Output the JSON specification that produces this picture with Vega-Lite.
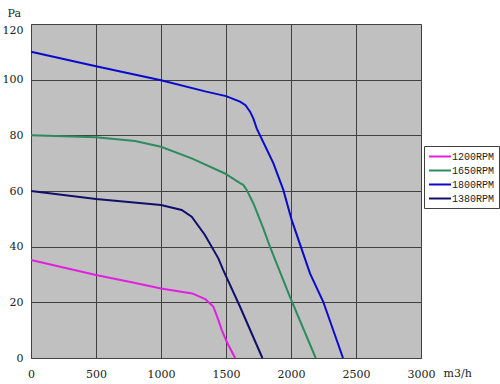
{
  "$schema": "https://vega.github.io/schema/vega-lite/v6.json",
  "width": 390,
  "height": 334,
  "autosize": "none",
  "padding": {"left": 31, "top": 24, "right": 79, "bottom": 26},
  "background": "white",
  "data": {"values": [
    {"rpm": "1800RPM", "q": 0, "p": 110},
    {"rpm": "1800RPM", "q": 500, "p": 104.8},
    {"rpm": "1800RPM", "q": 1000, "p": 99.8},
    {"rpm": "1800RPM", "q": 1340, "p": 95.8},
    {"rpm": "1800RPM", "q": 1500, "p": 94.1},
    {"rpm": "1800RPM", "q": 1608, "p": 92.1},
    {"rpm": "1800RPM", "q": 1650, "p": 90.8},
    {"rpm": "1800RPM", "q": 1685, "p": 88.5},
    {"rpm": "1800RPM", "q": 1710, "p": 86.1},
    {"rpm": "1800RPM", "q": 1736, "p": 82.5},
    {"rpm": "1800RPM", "q": 1864, "p": 70.0},
    {"rpm": "1800RPM", "q": 1941, "p": 60.4},
    {"rpm": "1800RPM", "q": 2005, "p": 49.6},
    {"rpm": "1800RPM", "q": 2146, "p": 30.4},
    {"rpm": "1800RPM", "q": 2248, "p": 20.2},
    {"rpm": "1800RPM", "q": 2400, "p": 0},
    {"rpm": "1650RPM", "q": 0, "p": 80},
    {"rpm": "1650RPM", "q": 500, "p": 79.3},
    {"rpm": "1650RPM", "q": 800, "p": 78.0},
    {"rpm": "1650RPM", "q": 1000, "p": 75.9},
    {"rpm": "1650RPM", "q": 1236, "p": 71.7},
    {"rpm": "1650RPM", "q": 1492, "p": 66.3},
    {"rpm": "1650RPM", "q": 1608, "p": 62.8},
    {"rpm": "1650RPM", "q": 1633, "p": 62.2},
    {"rpm": "1650RPM", "q": 1659, "p": 60.4},
    {"rpm": "1650RPM", "q": 1710, "p": 55.6},
    {"rpm": "1650RPM", "q": 1787, "p": 46.6},
    {"rpm": "1650RPM", "q": 1838, "p": 40},
    {"rpm": "1650RPM", "q": 1992, "p": 22},
    {"rpm": "1650RPM", "q": 2190, "p": 0},
    {"rpm": "1380RPM", "q": 0, "p": 60},
    {"rpm": "1380RPM", "q": 500, "p": 57.1},
    {"rpm": "1380RPM", "q": 1000, "p": 55.0},
    {"rpm": "1380RPM", "q": 1159, "p": 53.2},
    {"rpm": "1380RPM", "q": 1236, "p": 50.8},
    {"rpm": "1380RPM", "q": 1338, "p": 44.2},
    {"rpm": "1380RPM", "q": 1441, "p": 35.8},
    {"rpm": "1380RPM", "q": 1479, "p": 31.6},
    {"rpm": "1380RPM", "q": 1608, "p": 18.4},
    {"rpm": "1380RPM", "q": 1780, "p": 0},
    {"rpm": "1200RPM", "q": 0, "p": 35.2},
    {"rpm": "1200RPM", "q": 500, "p": 29.8},
    {"rpm": "1200RPM", "q": 774, "p": 27.2},
    {"rpm": "1200RPM", "q": 1000, "p": 25.0},
    {"rpm": "1200RPM", "q": 1240, "p": 23.2},
    {"rpm": "1200RPM", "q": 1340, "p": 21.2},
    {"rpm": "1200RPM", "q": 1402, "p": 18.5},
    {"rpm": "1200RPM", "q": 1441, "p": 13.7},
    {"rpm": "1200RPM", "q": 1467, "p": 10.1},
    {"rpm": "1200RPM", "q": 1505, "p": 5.9},
    {"rpm": "1200RPM", "q": 1570, "p": 0}
  ]},
  "mark": {"type": "line", "strokeWidth": 2},
  "encoding": {
    "x": {
      "field": "q", "type": "quantitative",
      "scale": {"domain": [0, 3000], "nice": false},
      "axis": {
        "values": [0, 500, 1000, 1500, 2000, 2500, 3000], "format": "d",
        "title": "m3/h", "titleAngle": 0, "titleAlign": "left", "titleBaseline": "middle",
        "titleX": 412, "titleY": 15, "titleFontWeight": "normal",
        "labelPadding": 10, "labelFlush": false
      }
    },
    "y": {
      "field": "p", "type": "quantitative",
      "scale": {"domain": [0, 120], "nice": false},
      "axis": {
        "values": [0, 20, 40, 60, 80, 100, 120], "format": "d",
        "title": "Pa", "titleAngle": 0, "titleAlign": "left", "titleBaseline": "middle",
        "titleX": -24, "titleY": -11, "titleFontWeight": "normal",
        "labelPadding": 8,
        "labelBaseline": {"condition": {"test": "datum.value == 120", "value": "top"}, "value": "middle"}
      }
    },
    "color": {
      "field": "rpm", "type": "nominal",
      "scale": {
        "domain": ["1200RPM", "1650RPM", "1800RPM", "1380RPM"],
        "range": ["#E020E0", "#2E8B60", "#0A0ACD", "#10106B"]
      },
      "legend": {
        "title": null, "orient": "none", "legendX": 393, "legendY": 122,
        "symbolType": "M-1,0H3", "symbolSize": 121, "symbolStrokeWidth": 2,
        "labelFont": "Liberation Mono", "labelFontSize": 10, "labelColor": "#222",
        "rowPadding": 2, "padding": 4, "strokeColor": "#404040", "fillColor": "white",
        "labelOffset": 11
      }
    }
  },
  "config": {
    "view": {"fill": "#C0C0C0", "stroke": "#707070", "strokeWidth": 1},
    "axis": {
      "grid": true, "gridColor": "#404040", "gridOpacity": 1, "gridWidth": 1,
      "ticks": false, "domain": false,
      "labelFont": "DejaVu Serif", "labelFontSize": 11, "labelColor": "#222",
      "titleFont": "DejaVu Serif", "titleFontSize": 11, "titleColor": "#222"
    }
  }
}
